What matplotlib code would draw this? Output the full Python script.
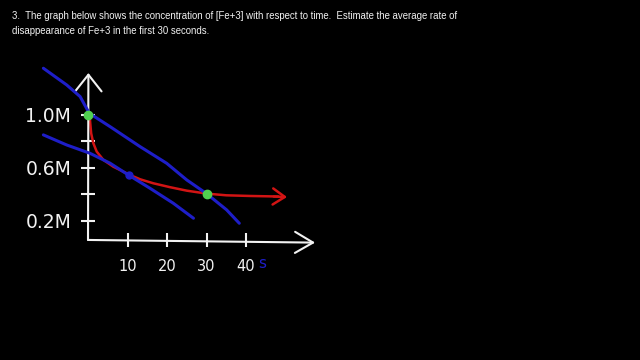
import matplotlib
matplotlib.use("Agg")
import matplotlib.pyplot as plt

# concentration of Fe+3 (M) vs time (s)
red_t = [0, 0.5, 0.8, 1.35, 2.2, 3.9, 6.4, 8.9, 10.6, 13.2, 16.5, 20.8, 25.0, 30, 35, 41, 48]
red_c = [1.0, 0.96, 0.86, 0.785, 0.722, 0.659, 0.608, 0.571, 0.546, 0.513, 0.483,
         0.453, 0.427, 0.405, 0.392, 0.387, 0.383]

# secant through t=0 and t=30
sec_t = [-11.3, -5.4, -2.0, 0.33, 5.6, 13.2, 19.9, 25.0, 30.0, 35.1, 38.3]
sec_c = [1.351, 1.225, 1.137, 1.011, 0.910, 0.759, 0.634, 0.508, 0.405, 0.282, 0.181]

# tangent near t=10
tan_t = [-11.3, -5.4, 0.5, 5.6, 10.2, 15.7, 21.6, 26.7]
tan_c = [0.848, 0.772, 0.709, 0.634, 0.546, 0.445, 0.332, 0.219]
tan_point = (10.4, 0.546)

green_t = [0, 30]
green_c = [1.0, 0.405]

x_ticks = [10, 20, 30, 40]
y_ticks = [0.2, 0.4, 0.6, 0.8, 1.0]
y_labels = ["0.2M", "", "0.6M", "", "1.0M"]

title = ("3.  The graph below shows the concentration of [Fe+3] with respect to time.  "
         "Estimate the average rate of\ndisappearance of Fe+3 in the first 30 seconds.")

BLUE = "#1e1ec8"
RED = "#d21414"
GREEN = "#50d050"
WHITE = "#f2f2f2"

fig = plt.figure(figsize=(6.4, 3.6), dpi=100, facecolor="black")
ax = fig.add_axes([0, 0, 1, 1], facecolor="black")
ax.set_xlim(-22.28, 139.75)
ax.set_ylim(-0.851, 1.866)

x_axis_c = 0.055
ax.spines["left"].set_position(("data", 0))
ax.spines["bottom"].set_position(("data", x_axis_c))
for s in ax.spines.values():
    s.set_visible(False)

# hand-drawn style axes with open arrow heads
ax.annotate("", xy=(0.1, 1.315), xytext=(0, x_axis_c),
            arrowprops=dict(arrowstyle="->,head_length=1.2,head_width=0.95",
                            color=WHITE, lw=1.5, shrinkA=0, shrinkB=0))
ax.annotate("", xy=(57.5, 0.035), xytext=(0, x_axis_c),
            arrowprops=dict(arrowstyle="->,head_length=1.3,head_width=0.76",
                            color=WHITE, lw=1.5, shrinkA=0, shrinkB=0))

ax.set_xticks(x_ticks)
ax.set_xticklabels([str(v) for v in x_ticks])
ax.set_yticks(y_ticks)
ax.set_yticklabels(y_labels)
ax.tick_params(axis="x", direction="inout", length=10, width=1.5, color=WHITE,
               labelcolor=WHITE, labelsize=10.5, pad=9)
ax.tick_params(axis="y", direction="inout", length=10, width=1.5, color=WHITE,
               labelcolor=WHITE, labelsize=13.5, pad=7)
ax.text(44.0, -0.126, "s", color=BLUE, fontsize=11, ha="center", va="center")

ax.plot(sec_t, sec_c, color=BLUE, lw=2.2, solid_capstyle="round", zorder=3)
ax.plot(tan_t, tan_c, color=BLUE, lw=2.2, solid_capstyle="round", zorder=3)
ax.plot(*tan_point, "o", color=BLUE, ms=5, zorder=3)
ax.plot(red_t, red_c, color=RED, lw=1.8, zorder=2)
ax.annotate("", xy=(50.4, red_c[-1] - 0.004), xytext=(red_t[-1] - 1, red_c[-1]),
            arrowprops=dict(arrowstyle="->,head_length=0.86,head_width=0.58",
                            color=RED, lw=1.8, shrinkA=0, shrinkB=0))
ax.plot(green_t, green_c, "o", color=GREEN, ms=6, zorder=4)

fig.text(12 / 640, 1 - 11 / 360, title, color=WHITE, fontsize=6.9,
         family="Liberation Sans", ha="left", va="top", linespacing=1.6)

fig.savefig("out.png", dpi=100, facecolor="black")
